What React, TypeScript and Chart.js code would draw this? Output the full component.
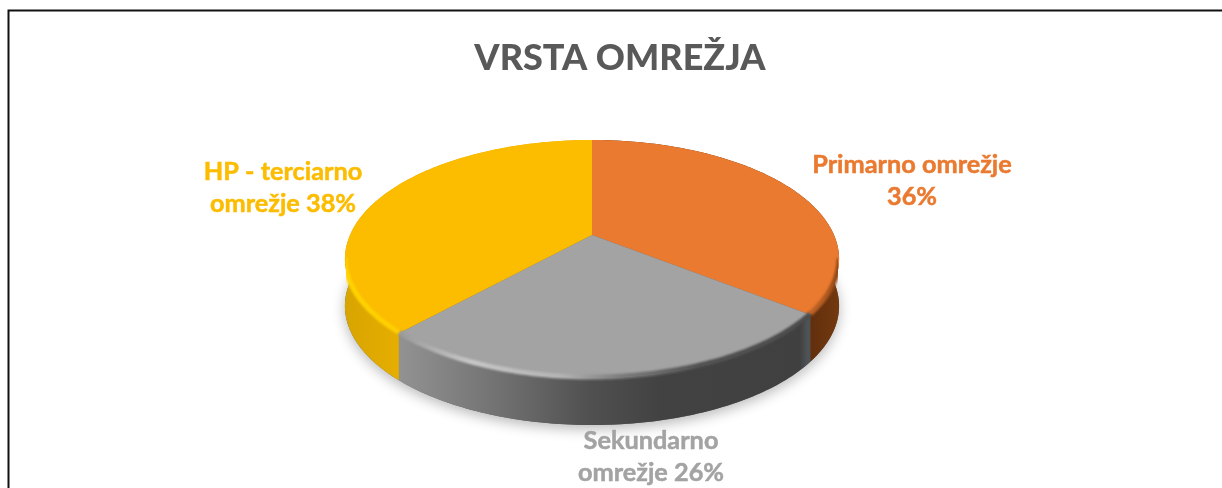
import React, { useEffect, useRef } from "react";
import { Chart, registerables } from "chart.js";

Chart.register(...registerables);

const titleText = "VRSTA OMREŽJA";
const categories = ["Primarno omrežje", "Sekundarno omrežje", "HP - terciarno omrežje"];
const values = [35.5, 26.4, 38.1];
const faceColors = ["#EA7A30", "#A3A3A3", "#FCBC00"];
const labelLines = [
  ["Primarno omrežje", "36%"],
  ["Sekundarno", "omrežje 26%"],
  ["HP - terciarno", "omrežje 38%"],
];
const labelCentres = [
  [912, 165],
  [651, 441],
  [283, 172],
];
const wallStops: [number, string][][] = [
  [[800, "#5A2C0C"], [840, "#74390F"]],
  [[400, "#929292"], [500, "#717171"], [590, "#505050"], [660, "#424242"], [800, "#404040"], [807, "#4E5357"]],
  [[345, "#D8A400"], [400, "#E6AE00"]],
];
const rimStops: [number, string][][] = [
  [[800, "#C9682A"], [825, "#B05A20"], [840, "#8A4516"]],
  [[400, "#9A9A9A"], [470, "#C6C6C6"], [560, "#B4B4B4"], [620, "#7C7C7C"], [700, "#505050"], [807, "#4A4A4A"]],
  [[345, "#FFD400"], [400, "#FFCE00"]],
];

const CX = 592, CY = 235, A = 242, B = 114.2, K = -0.2017, DEPTH = 47;
const project = (t: number, r = 1) => {
  const u = Math.cos(t) * r, v = Math.sin(t) * r, d = 1 + K * v;
  return [CX + (A * u) / d, CY + (B * v) / d];
};
const samples = (start: number, end: number) => {
  const n = Math.max(2, Math.ceil(((end - start) * 180) / Math.PI));
  const out: number[][] = [];
  for (let i = 0; i <= n; i++) out.push(project(start + ((end - start) * i) / n));
  return out;
};
const gradient = (ctx: CanvasRenderingContext2D, stops: [number, string][]) => {
  const x0 = stops[0][0], x1 = stops[stops.length - 1][0];
  const g = ctx.createLinearGradient(x0, 0, x1, 0);
  stops.forEach(([x, c]) => g.addColorStop((x - x0) / (x1 - x0), c));
  return g;
};

const piePerspective = {
  id: "piePerspective",
  beforeDatasetsDraw(chart: any) {
    const ctx: CanvasRenderingContext2D = chart.ctx;
    const arcs = chart.getDatasetMeta(0).data;
    ctx.save();
    ctx.lineJoin = "round";

    ctx.save();
    ctx.shadowColor = "rgba(0,0,0,0.28)";
    ctx.shadowBlur = 13;
    ctx.shadowOffsetY = 4;
    ctx.fillStyle = "#666";
    ctx.beginPath();
    samples(0, Math.PI * 2).forEach(([x, y], i) => (i ? ctx.lineTo(x, y + DEPTH) : ctx.moveTo(x, y + DEPTH)));
    ctx.closePath();
    ctx.fill();
    ctx.restore();

    arcs.forEach((arc: any, i: number) => {
      const pts = samples(arc.startAngle, arc.endAngle);
      ctx.beginPath();
      pts.forEach(([x, y], j) => (j ? ctx.lineTo(x, y) : ctx.moveTo(x, y)));
      pts.slice().reverse().forEach(([x, y]) => ctx.lineTo(x, y + DEPTH));
      ctx.closePath();
      ctx.fillStyle = gradient(ctx, wallStops[i]);
      ctx.fill();
    });

    arcs.forEach((arc: any, i: number) => {
      const pts = samples(arc.startAngle, arc.endAngle);
      ctx.beginPath();
      ctx.moveTo(CX, CY);
      pts.forEach(([x, y]) => ctx.lineTo(x, y));
      ctx.closePath();
      ctx.fillStyle = faceColors[i];
      ctx.fill();
    });

    ctx.save();
    ctx.beginPath();
    ctx.rect(346, 200, 492, 260);
    ctx.clip();
    arcs.forEach((arc: any, i: number) => {
      const visible = samples(arc.startAngle, arc.endAngle).filter(([, y]) => y > 258);
      if (!visible.length) return;
      ctx.save();
      ctx.filter = "blur(1px)";
      ctx.beginPath();
      visible.forEach(([x, y], j) => (j ? ctx.lineTo(x, y - 1) : ctx.moveTo(x, y - 1)));
      ctx.strokeStyle = gradient(ctx, rimStops[i]);
      ctx.lineWidth = 5;
      ctx.stroke();
      ctx.restore();
    });
    ctx.restore();
    ctx.restore();
    return false;
  },
  afterDraw(chart: any) {
    const ctx: CanvasRenderingContext2D = chart.ctx;
    ctx.save();
    ctx.strokeStyle = "#111";
    ctx.lineWidth = 2;
    ctx.beginPath();
    ctx.moveTo(8.5, 488);
    ctx.lineTo(8.5, 10.5);
    ctx.lineTo(1240, 10.5);
    ctx.stroke();
    ctx.font = "700 25.3px Lato";
    ctx.textAlign = "center";
    ctx.textBaseline = "middle";
    ctx.lineWidth = 0.5;
    labelLines.forEach((lines, i) => {
      ctx.fillStyle = faceColors[i];
      ctx.strokeStyle = faceColors[i];
      lines.forEach((t, j) => {
        const y = labelCentres[i][1] + j * 32;
        ctx.fillText(t, labelCentres[i][0], y);
        ctx.strokeText(t, labelCentres[i][0], y);
      });
    });
    ctx.restore();
  },
};

export default function App() {
  const ref = useRef<HTMLCanvasElement>(null);
  useEffect(() => {
    const chart = new Chart(ref.current!, {
      type: "pie",
      data: { labels: categories, datasets: [{ data: values, backgroundColor: faceColors, borderWidth: 0 }] },
      options: {
        responsive: false,
        animation: false,
        events: [],
        plugins: {
          legend: { display: false },
          tooltip: { enabled: false },
          title: {
            display: true,
            text: titleText,
            color: "#595959",
            font: { family: "Lato", size: 36, weight: "900" },
            padding: { top: 37, bottom: 10 },
          },
        },
      },
      plugins: [piePerspective],
    } as any);
    return () => chart.destroy();
  }, []);
  return (
    <div style={{ position: "absolute", left: 0, top: 0, width: 1222, height: 488, overflow: "hidden", background: "#fff" }}>
      <canvas ref={ref} width={1240} height={488} style={{ display: "block" }} />
    </div>
  );
}
